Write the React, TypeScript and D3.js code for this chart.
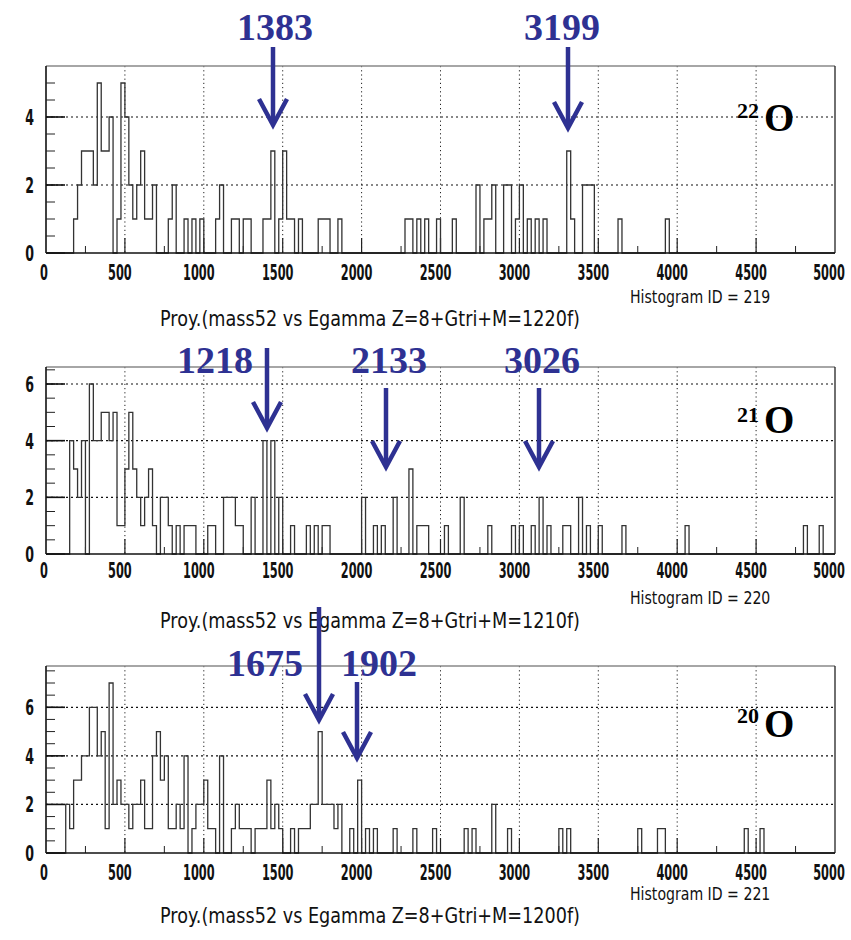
import React from 'react';
import * as d3 from 'd3';

// ---------- data (bin lower edge in keV, counts per 25 keV bin) ----------
const BIN_WIDTH = 25;
const N_BINS = 200;

const o22Energies = [175, 200, 225, 250, 275, 300, 325, 350, 375, 400, 450, 475, 500, 525, 550, 575, 600, 625, 650, 675, 775, 800, 875, 925, 975, 1075, 1100, 1175, 1200, 1250, 1275, 1375, 1400, 1425, 1475, 1500, 1525, 1550, 1600, 1725, 1750, 1775, 1850, 2275, 2300, 2350, 2400, 2475, 2575, 2725, 2775, 2800, 2825, 2900, 2925, 2975, 3000, 3050, 3100, 3150, 3300, 3325, 3400, 3425, 3450, 3625, 3925];
const o22Counts = [1, 2, 3, 3, 3, 2, 5, 3, 3, 4, 1, 5, 4, 2, 1, 2, 3, 1, 1, 2, 1, 2, 1, 1, 1, 1, 2, 1, 1, 1, 1, 1, 1, 3, 1, 3, 1, 1, 1, 1, 1, 1, 1, 1, 1, 1, 1, 1, 1, 2, 1, 1, 2, 2, 2, 1, 2, 1, 1, 1, 3, 1, 2, 2, 2, 1, 1];

const o21Energies = [150, 175, 200, 225, 275, 300, 325, 350, 375, 400, 425, 450, 475, 500, 525, 550, 575, 600, 625, 650, 675, 725, 750, 775, 825, 875, 900, 925, 1025, 1050, 1125, 1150, 1175, 1200, 1225, 1300, 1375, 1425, 1475, 1550, 1650, 1700, 1750, 1775, 2000, 2075, 2125, 2200, 2300, 2350, 2375, 2400, 2525, 2625, 2800, 2950, 3000, 3075, 3125, 3175, 3275, 3300, 3375, 3425, 3500, 3650, 4050, 4800, 4900];
const o21Counts = [4, 3, 2, 4, 6, 4, 4, 5, 5, 4, 5, 1, 1, 3, 5, 3, 2, 1, 2, 3, 1, 2, 2, 1, 1, 1, 1, 1, 1, 1, 2, 2, 2, 1, 1, 2, 4, 4, 2, 1, 1, 1, 1, 1, 2, 1, 1, 2, 3, 1, 1, 1, 1, 2, 1, 1, 1, 1, 2, 1, 1, 1, 2, 1, 1, 1, 1, 1, 1];

const o20Energies = [125, 150, 175, 200, 225, 250, 275, 300, 325, 350, 375, 400, 425, 450, 475, 500, 525, 550, 575, 600, 625, 650, 675, 700, 725, 750, 775, 800, 825, 850, 875, 925, 950, 975, 1000, 1025, 1050, 1100, 1175, 1200, 1225, 1250, 1275, 1325, 1350, 1375, 1400, 1425, 1450, 1475, 1550, 1600, 1625, 1650, 1675, 1700, 1725, 1750, 1775, 1800, 1825, 1850, 1925, 1975, 2025, 2075, 2200, 2325, 2450, 2650, 2700, 2825, 2925, 3250, 3300, 3750, 3875, 3900, 4425, 4525];
const o20Counts = [2, 1, 3, 3, 4, 4, 6, 6, 4, 5, 1, 7, 2, 3, 2, 2, 1, 2, 2, 3, 1, 1, 4, 5, 3, 4, 1, 1, 2, 1, 4, 1, 2, 2, 3, 1, 1, 4, 1, 2, 1, 1, 1, 1, 1, 1, 3, 1, 2, 1, 1, 1, 1, 1, 2, 2, 5, 2, 2, 2, 1, 2, 1, 3, 1, 1, 1, 1, 1, 1, 1, 2, 1, 1, 1, 1, 1, 1, 1, 1];

const xTickValues = [0, 500, 1000, 1500, 2000, 2500, 3000, 3500, 4000, 4500, 5000];
const histogramIds = ['219', '220', '221'];
const multiplicities = ['1220f', '1210f', '1200f'];
const isotopeMasses = ['22', '21', '20'];
const yTickSets = [[0, 2, 4], [0, 2, 4, 6], [0, 2, 4, 6]];
const yMaxima = [5.5, 6.6, 7.7];

const peakLabels = [['1383', '3199'], ['1218', '2133', '3026'], ['1675', '1902']];

// ---------- layout ----------
const W = 851;
const H = 940;
const PLOT_L = 46;
const PLOT_R = 835;
const BLUE = '#2e3192';

const panelLayout = [
  { top: 66, bottom: 253, tickBase: 280, idBase: 303, proyBase: 326, isoBase: 118, oBase: 131 },
  { top: 367, bottom: 554, tickBase: 578, idBase: 604, proyBase: 628, isoBase: 422, oBase: 433 },
  { top: 666, bottom: 853, tickBase: 880, idBase: 900, proyBase: 923, isoBase: 723, oBase: 737 },
];

// arrows: [textX, textBaseline, arrowX, lineTop, tipY]
const arrowLayout = [
  [[275, 40, 273, 47, 125], [562, 40, 568, 47, 128]],
  [[215, 373, 267, 348, 428], [389, 373, 386, 388, 467], [542, 373, 539, 388, 467]],
  [[265, 676, 319, 607, 720], [379, 676, 357, 682, 758]],
];

const AXIS_FONT = "'DejaVu Sans', sans-serif";
const SERIF = "'Liberation Serif', 'DejaVu Serif', serif";

function dense(energies: number[], counts: number[]) {
  const arr = new Array(N_BINS).fill(0);
  energies.forEach((e, i) => {
    arr[Math.round(e / BIN_WIDTH)] = counts[i];
  });
  return arr;
}

const series = [
  dense(o22Energies, o22Counts),
  dense(o21Energies, o21Counts),
  dense(o20Energies, o20Counts),
];

function CondensedText({ x, y, scale, anchor, size, weight, children }: any) {
  return (
    <text
      transform={`translate(${x},${y}) scale(${scale},1)`}
      textAnchor={anchor}
      fontFamily={AXIS_FONT}
      fontWeight={weight}
      fontSize={size}
      fill="#111"
    >
      {children}
    </text>
  );
}

function Panel({ idx }: { idx: number }) {
  const L = panelLayout[idx];
  const counts = series[idx];
  const x = d3.scaleLinear().domain([0, 5000]).range([PLOT_L, PLOT_R]);
  const y = d3.scaleLinear().domain([0, yMaxima[idx]]).range([L.bottom, L.top]);

  const pts: [number, number][] = counts.map((c, k) => [k * BIN_WIDTH, c]);
  pts.push([N_BINS * BIN_WIDTH, counts[N_BINS - 1]]);
  const line = d3
    .line<[number, number]>()
    .x((d) => x(d[0]))
    .y((d) => y(d[1]))
    .curve(d3.curveStepAfter);

  const minorY = d3.range(0, yMaxima[idx], 0.5);
  const minorX = d3.range(250, 5000, 500);
  const majors = yTickSets[idx];

  return (
    <g>
      {xTickValues.slice(1, -1).map((v) => (
        <line key={'gx' + v} x1={x(v)} x2={x(v)} y1={L.top} y2={L.bottom} stroke="#222" strokeWidth={1} strokeDasharray="1.2,3" />
      ))}
      {majors.slice(1).map((v) => (
        <line key={'gy' + v} x1={PLOT_L} x2={PLOT_R} y1={y(v)} y2={y(v)} stroke="#111" strokeWidth={1.2} strokeDasharray="2,3" />
      ))}
      <line x1={PLOT_L} x2={PLOT_R} y1={L.top} y2={L.top} stroke="#888" strokeWidth={1.5} />
      <line x1={PLOT_R} x2={PLOT_R} y1={L.top} y2={L.bottom} stroke="#222" strokeWidth={1.3} />
      <line x1={PLOT_L} x2={PLOT_L} y1={L.top} y2={L.bottom} stroke="#111" strokeWidth={1.6} />
      {minorY.map((v) => (
        <line key={'my' + v} x1={PLOT_L} x2={PLOT_L + 9} y1={y(v)} y2={y(v)} stroke="#222" strokeWidth={1} />
      ))}
      {majors.map((v) => (
        <line key={'My' + v} x1={PLOT_L} x2={PLOT_L + 19} y1={y(v)} y2={y(v)} stroke="#111" strokeWidth={1.6} />
      ))}
      {minorX.map((v) => (
        <line key={'mx' + v} x1={x(v)} x2={x(v)} y1={L.bottom} y2={L.bottom - 7} stroke="#222" strokeWidth={1} />
      ))}
      {xTickValues.slice(1, -1).map((v) => (
        <line key={'Mx' + v} x1={x(v)} x2={x(v)} y1={L.bottom} y2={L.bottom - 15} stroke="#222" strokeWidth={1.2} />
      ))}
      <path d={line(pts) || ''} fill="none" stroke="#333" strokeWidth={1.3} />
      <line x1={PLOT_L} x2={PLOT_R} y1={L.bottom} y2={L.bottom} stroke="#111" strokeWidth={1.6} />
      {xTickValues.map((v) => {
        const dx = v === 0 ? -2 : v === 5000 ? -6 : -5;
        return (
          <CondensedText key={'tx' + v} x={x(v) + dx} y={L.tickBase} scale={0.54} anchor="middle" size={21} weight="bold">
            {String(v)}
          </CondensedText>
        );
      })}
      {majors.map((v) => (
        <CondensedText key={'ty' + v} x={PLOT_L - 12} y={y(v) + 8} scale={0.6} anchor="end" size={21} weight="bold">
          {String(v)}
        </CondensedText>
      ))}
      <CondensedText x={630} y={L.idBase} scale={0.83} anchor="start" size={17} weight="normal">
        {`Histogram ID =  ${histogramIds[idx]}`}
      </CondensedText>
      <CondensedText x={160} y={L.proyBase} scale={0.84} anchor="start" size={21} weight="normal">
        {`Proy.(mass52 vs Egamma Z=8+Gtri+M=${multiplicities[idx]})`}
      </CondensedText>
      <text x={737} y={L.isoBase} fontFamily={SERIF} fontWeight="bold" fontSize={22} fill="#000">
        {isotopeMasses[idx]}
      </text>
      <text x={764} y={L.oBase} fontFamily={SERIF} fontWeight="bold" fontSize={39} fill="#000">
        O
      </text>
    </g>
  );
}

function Arrows({ idx }: { idx: number }) {
  return (
    <g>
      {arrowLayout[idx].map((a, i) => {
        const [tx, tb, ax, y0, tip] = a;
        return (
          <g key={i}>
            <text x={tx} y={tb} textAnchor="middle" fontFamily={SERIF} fontWeight="bold" fontSize={38} fill={BLUE}>
              {peakLabels[idx][i]}
            </text>
            <line x1={ax} x2={ax} y1={y0} y2={tip - 3} stroke={BLUE} strokeWidth={4.5} />
            <path d={`M${ax - 14},${tip - 26} L${ax},${tip} L${ax + 14},${tip - 26}`} fill="none" stroke={BLUE} strokeWidth={4.5} strokeLinejoin="miter" />
          </g>
        );
      })}
    </g>
  );
}

export default function App() {
  return (
    <svg width={W} height={H} viewBox={`0 0 ${W} ${H}`} style={{ position: 'absolute', left: 0, top: 0, background: '#fff' }}>
      <rect width={W} height={H} fill="#fff" />
      {[0, 1, 2].map((i) => (
        <Panel key={i} idx={i} />
      ))}
      {[0, 1, 2].map((i) => (
        <Arrows key={'a' + i} idx={i} />
      ))}
    </svg>
  );
}
